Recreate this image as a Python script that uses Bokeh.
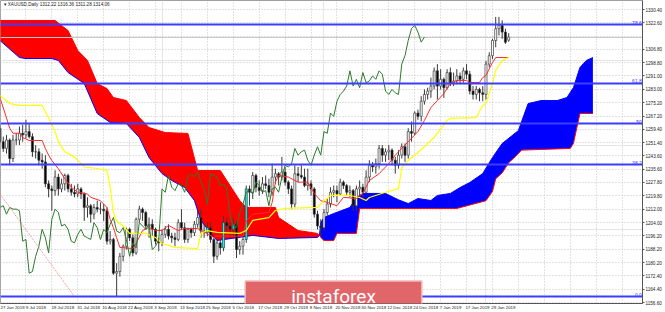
import numpy as np
from bokeh.plotting import figure
from bokeh.models import (Range1d, LinearAxis, FixedTicker, Label, Grid,
                          PrintfTickFormatter)
from bokeh.embed import file_html
from bokeh.resources import INLINE

# ---------------- data ----------------
opens = [1260,1252,1248,1253,1242,1253,1253,1257,1256,1258,
         1255,1246,1246,1241,1240,1227,1224,1223,1231,1224,
         1227,1232,1224,1222,1221,1224,1221,1213,1214,1209,
         1213,1212,1212,1211,1193,1194,1174,1175,1184,1190,
         1200,1195,1186,1206,1212,1210,1202,1203,1200,1193,
         1192,1197,1200,1196,1195,1194,1204,1201,1194,1200,
         1198,1203,1207,1199,1198,1201,1194,1184,1192,1189,
         1204,1202,1200,1203,1188,1190,1194,1224,1222,1232,
         1225,1223,1227,1226,1222,1231,1233,1231,1234,1228,
         1224,1215,1233,1232,1231,1226,1227,1224,1209,1202,
         1201,1210,1215,1222,1223,1221,1228,1226,1222,1223,
         1214,1224,1225,1222,1231,1238,1237,1239,1248,1244,
         1246,1247,1241,1238,1244,1249,1244,1258,1257,1269,
         1267,1276,1280,1282,1285,1294,1285,1289,1284,1293,
         1287,1288,1291,1289,1294,1292,1282,1280,1283,1281,
         1280,1298,1303,1312,1319,1321,1317,1312.22]
highs = [1262,1255,1256,1254,1256,1257,1261,1262,1265,1263,
         1257,1250,1248,1245,1244,1229,1226,1235,1233,1230,
         1233,1233,1227,1226,1227,1225,1222,1219,1215,1215,
         1217,1216,1215,1213,1199,1195,1180,1186,1191,1201,
         1201,1197,1207,1214,1213,1211,1207,1206,1201,1195,
         1200,1202,1203,1198,1198,1206,1212,1204,1201,1201,
         1205,1211,1212,1203,1204,1204,1195,1194,1194,1208,
         1207,1204,1207,1205,1193,1196,1226,1226,1234,1233,
         1229,1231,1232,1230,1239,1236,1234,1243,1237,1229,
         1226,1238,1237,1238,1236,1236,1229,1225,1211,1206,
         1212,1218,1225,1226,1226,1230,1229,1227,1226,1224,
         1226,1229,1227,1235,1241,1240,1242,1250,1250,1248,
         1250,1248,1243,1247,1251,1251,1260,1264,1270,1271,
         1279,1283,1284,1290,1296,1298,1295,1290,1295,1296,
         1293,1295,1293,1296,1298,1294,1285,1285,1284,1285,
         1300,1305,1313,1326,1326,1324,1319,1316.36]
lows = [1251,1246,1245,1238,1240,1250,1250,1252,1254,1254,
        1243,1242,1238,1236,1225,1219,1211,1220,1220,1222,
        1223,1222,1220,1219,1219,1218,1205,1207,1204,1206,
        1210,1209,1205,1191,1191,1173,1160,1172,1181,1188,
        1193,1184,1185,1204,1205,1200,1195,1196,1191,1187,
        1190,1195,1194,1192,1190,1193,1200,1192,1192,1195,
        1196,1201,1195,1195,1196,1192,1180,1182,1185,1187,
        1199,1195,1196,1183,1185,1185,1192,1214,1218,1222,
        1220,1221,1224,1219,1220,1227,1226,1229,1226,1221,
        1212,1213,1228,1230,1225,1223,1220,1207,1200,1196,
        1199,1208,1213,1219,1216,1220,1224,1220,1219,1211,
        1211,1220,1217,1221,1228,1234,1233,1236,1240,1240,
        1241,1238,1233,1236,1242,1240,1242,1252,1256,1265,
        1264,1274,1277,1278,1283,1277,1283,1278,1283,1285,
        1285,1286,1286,1287,1289,1280,1277,1277,1276,1276,
        1277,1296,1301,1308,1315,1313,1310,1311.28]
closes = [1252,1248,1253,1242,1253,1253,1257,1256,1258,1255,
          1246,1246,1241,1240,1227,1224,1223,1231,1224,1227,
          1232,1224,1222,1221,1224,1221,1213,1214,1209,1213,
          1212,1212,1211,1193,1194,1174,1175,1184,1190,1200,
          1195,1186,1206,1212,1210,1202,1203,1200,1193,1192,
          1197,1200,1196,1195,1194,1204,1201,1194,1200,1198,
          1203,1207,1199,1198,1201,1194,1184,1192,1189,1204,
          1202,1200,1203,1188,1190,1194,1224,1222,1232,1225,
          1223,1227,1226,1222,1231,1233,1231,1234,1228,1224,
          1215,1233,1232,1231,1226,1227,1224,1209,1202,1201,
          1210,1215,1222,1223,1221,1228,1226,1222,1223,1214,
          1224,1225,1222,1231,1238,1237,1239,1248,1244,1246,
          1247,1241,1238,1244,1249,1244,1258,1257,1269,1267,
          1276,1280,1282,1285,1294,1285,1289,1284,1293,1287,
          1288,1291,1289,1294,1292,1282,1280,1283,1281,1280,
          1298,1303,1312,1319,1321,1317,1311,1314.06]

tenkan_idx = [0,2,3,4,6,7,9,13,14,15,16,18,20,22,24,27,28,31,33,34,35,36,37,41,42,44,46,48,50,52,55,57,61,63,66,67,75,76,78,83,84,85,86,89,92,95,97,99,101,104,106,110,112,114,117,120,122,125,128,129,131,133,135,137,139,141,144,145,148,149,150,152,153,157]
tenkan_val = [1278,1266,1260,1257,1257,1254.5,1252.7,1252.7,1248,1244,1240.8,1236,1230,1225,1222,1221,1219,1217,1213,1206,1201,1195,1189.3,1188.6,1191.6,1199.3,1201.1,1199.3,1199.3,1202.3,1199.3,1200.5,1200.5,1198.5,1195.2,1196,1196,1205,1209,1210,1216,1228,1232,1231,1228,1228,1221.3,1217,1216,1214,1219,1218.3,1221.3,1229,1233,1239,1244,1250,1256,1258,1264.6,1272.3,1276.4,1280.6,1286.5,1288.3,1288.3,1287.1,1287.1,1290,1291.3,1299,1301.9,1301.9]

kijun_idx = [0,3,6,13,15,17,18,20,23,26,30,33,34,35,36,38,40,45,48,50,54,61,62,64,67,74,76,78,83,85,88,98,100,102,108,111,113,114,119,123,124,126,129,133,135,138,139,147,149,150,152,153,155,157]
kijun_val = [1279.4,1274.6,1273.5,1273.5,1266,1258,1252,1246,1243,1237,1236.1,1235,1225,1210,1205,1202,1197.6,1197.6,1195.2,1191.6,1189.3,1188.6,1197.6,1199.3,1198.2,1197.6,1199.3,1205.3,1207,1211.2,1212.4,1213,1217,1220.1,1220.1,1218.9,1217.1,1218.9,1222,1224.2,1236.7,1240.8,1245.6,1252.7,1256.9,1264.6,1265.8,1266.3,1273.5,1274.6,1286.5,1294.2,1300.2,1301.9]

span_a_idx = [0,6,8,16,18,21,26,30,34,39,43,46,50,53,57,60,62,65,67,78,86,98,98.6,99,100,103,108,110,112,119,123,126,129,133,135,139,142,145,149,152,155,160,163,167,172,175,177,179,181,183]
span_a_val = [1312.0,1301.9,1301.3,1301.3,1300.2,1293.0,1286.5,1268.7,1263.4,1262.8,1254.5,1242.6,1233.1,1229.0,1224.8,1217.1,1205.3,1197.6,1193.4,1196.4,1194.6,1195.2,1196.5,1204.0,1207.0,1209.4,1213.0,1218.9,1221.3,1221.3,1217.5,1215.3,1218.3,1217.1,1220.1,1221.3,1224.8,1227.8,1233.1,1242.6,1250.9,1258.6,1274.6,1276.4,1276.4,1278.2,1284.1,1296.0,1300.2,1301.9]

span_b_idx = [0,17,21,24,27,30,33,35,39,43,46,51,58,61,68,74,76,85,86,92,98,98.6,99,100,103,104,110,111,141,150,152,153,155,157,159,161,176,177,178,179,183]
span_b_val = [1323.9,1323.9,1317.9,1306.1,1300.2,1286.5,1283.5,1278.2,1276.4,1266.3,1260.4,1257.4,1256.9,1234.9,1234.9,1217.1,1213.0,1213.0,1207.0,1199.3,1197.6,1196.5,1195.2,1193.4,1193.4,1197.6,1197.6,1212.4,1212.4,1217.0,1222.5,1230.0,1233.5,1239.5,1243.0,1247.0,1248.0,1251.0,1260.0,1268.7,1268.7]
cloud_switch = 98.6
chikou_shift = 26

fib_names = ["0.0", "38.2", "50", "61.8", "78.6"]
fib_prices = [1160.0, 1238.4, 1262.6, 1286.8, 1321.3]

trend_idx = [0.0, 23.2]
trend_price = [1221.0, 1159.6]

price_ticks = [1330.40, 1322.60, 1314.60, 1306.80, 1298.80, 1291.00, 1283.00, 1275.20,
               1267.20, 1259.40, 1251.40, 1243.60, 1235.60, 1227.80, 1219.80, 1212.00,
               1204.00, 1196.20, 1188.20, 1180.20, 1172.40, 1164.40, 1156.60]
date_labels = ["27 Jun 2018", "9 Jul 2018", "19 Jul 2018", "31 Jul 2018", "10 Aug 2018",
               "22 Aug 2018", "3 Sep 2018", "13 Sep 2018", "25 Sep 2018", "5 Oct 2018",
               "17 Oct 2018", "29 Oct 2018", "8 Nov 2018", "20 Nov 2018", "30 Nov 2018",
               "12 Dec 2018", "24 Dec 2018", "7 Jan 2019", "17 Jan 2019", "29 Jan 2019"]
label_every = 8
symbol = "XAUUSD,Daily"

# ---------------- layout ----------------
W, H = 665, 312
FRAME_W, FRAME_H = 646, 303
PX_PER_BAR = 3.26
PX_PER_USD = 1.686
X0 = 0.15
Y_TOP = 1335.74
X1 = X0 + FRAME_W / PX_PER_BAR

p = figure(width=W, height=H, output_backend="svg", toolbar_location=None,
           x_range=Range1d(X0, X1),
           y_range=Range1d(Y_TOP - FRAME_H / PX_PER_USD, Y_TOP),
           x_axis_location=None, y_axis_location=None,
           min_border_left=0, min_border_top=0, min_border_right=W - FRAME_W,
           min_border_bottom=H - FRAME_H)
p.outline_line_color = "#a0a0a0"
p.background_fill_color = "white"
p.border_fill_color = "white"

n = len(closes)
idx = np.arange(n)
grid_x = list(range(0, int(X1) + 1, label_every))
p.add_layout(Grid(dimension=0, ticker=FixedTicker(ticks=grid_x),
                  grid_line_color="#c4c4c4", grid_line_dash="1 2", grid_line_width=1))
p.add_layout(Grid(dimension=1, ticker=FixedTicker(ticks=price_ticks),
                  grid_line_color="#c4c4c4", grid_line_dash="1 2", grid_line_width=1))

# cloud
a_idx = np.array(span_a_idx); a_val = np.array(span_a_val)
b_idx = np.array(span_b_idx); b_val = np.array(span_b_val)
ra = a_idx <= cloud_switch; rb = b_idx <= cloud_switch
red_x = list(b_idx[rb]) + list(a_idx[ra][::-1])
red_y = list(b_val[rb]) + list(a_val[ra][::-1])
ba = a_idx >= cloud_switch; bb = b_idx >= cloud_switch
blue_x = list(a_idx[ba]) + list(b_idx[bb][::-1])
blue_y = list(a_val[ba]) + list(b_val[bb][::-1])
p.patch(red_x, red_y, fill_color="#ff0000", line_color=None)
p.patch(blue_x, blue_y, fill_color="#0000ff", line_color=None)
p.line(span_a_idx, span_a_val, line_color="#0000ff", line_width=1)
p.line(span_b_idx, span_b_val, line_color="#ff0000", line_width=1)

# current price line
p.hspan(y=[closes[-1]], line_color="#c8c8c8", line_width=1)

# candles
o = np.array(opens, float); c = np.array(closes, float)
a_at = np.interp(idx, a_idx, a_val); b_at = np.interp(idx, b_idx, b_val)
top = np.maximum(o, c); bot = np.minimum(o, c)
colors = []
for i in range(n):
    if c[i] >= o[i]:
        in_red = (b_at[i] > a_at[i]) and (bot[i] < b_at[i]) and (top[i] > a_at[i])
        colors.append("#00ffff" if in_red else "white")
    else:
        colors.append("black")
p.segment(x0=idx, y0=lows, x1=idx, y1=highs, line_color="#3a3a3a", line_width=1)
p.vbar(x=idx, width=0.62, top=top, bottom=bot, fill_color=colors,
       line_color="#3a3a3a", line_width=0.7)

# ichimoku lines
p.line(tenkan_idx, tenkan_val, line_color="#ff2a2a", line_width=1)
p.line(kijun_idx, kijun_val, line_color="#ffff00", line_width=1.2)
p.line(idx[chikou_shift:] - chikou_shift, closes[chikou_shift:], line_color="#2c7a2c", line_width=1)

# trend line
p.line(trend_idx, trend_price, line_color="#f08080", line_width=1, line_dash="1 1")

# fibonacci levels
p.hspan(y=fib_prices, line_color="#3c3cff", line_width=2)
p.text(x=[X1 - 0.2] * len(fib_prices), y=fib_prices, text=fib_names,
       text_align="right", text_baseline="bottom", text_font_size="5px",
       text_color="#3c3cff")

# axes
yax = LinearAxis(ticker=FixedTicker(ticks=[t for t in price_ticks if abs(t - closes[-1]) > 2]),
                 formatter=PrintfTickFormatter(format="%.2f"),
                 major_label_text_font_size="4.6px", major_label_text_font="Liberation Sans",
                 major_label_text_color="#222222", major_label_standoff=1,
                 major_tick_out=2, major_tick_in=0, minor_tick_line_color=None,
                 axis_line_color="#555555", major_tick_line_color="#555555")
p.add_layout(yax, "right")

tick_pos = []
overrides = {}
for k, s in enumerate(date_labels):
    pos = k * label_every + len(s) * 1.0 / PX_PER_BAR
    tick_pos.append(pos)
    overrides[pos] = s
xax = LinearAxis(ticker=FixedTicker(ticks=tick_pos), major_label_overrides=overrides,
                 major_label_text_font_size="4.4px", major_label_text_font="Liberation Sans",
                 major_label_text_color="#222222", major_label_standoff=1,
                 major_tick_out=0, major_tick_in=0, minor_tick_line_color=None,
                 axis_line_color="#555555", major_tick_line_color=None)
p.add_layout(xax, "below")

# price box, title and watermark
p.add_layout(Label(x=FRAME_W + 1, y=closes[-1], x_units="screen", y_units="data",
                   text="%.2f" % closes[-1], text_font_size="4.6px", text_color="white",
                   text_font="Liberation Sans", text_baseline="middle", text_align="left",
                   background_fill_color="black", padding=1))
title = "\u25be %s  %.2f %.2f %.2f %.2f" % (symbol, opens[-1], highs[-1], lows[-1], closes[-1])
p.add_layout(Label(x=3, y=FRAME_H - 1, x_units="screen", y_units="screen", text=title,
                   text_font_size="4.6px", text_color="#222222", text_font="Liberation Sans",
                   text_baseline="top", text_align="left"))
p.add_layout(Label(x=333, y=FRAME_H - 296.5, x_units="screen", y_units="screen",
                   text="instaforex", text_font="Roboto", text_font_size="19px",
                   text_color="white", text_align="center", text_baseline="middle",
                   background_fill_color="#e0666a", border_line_color="#f2b8b8",
                   border_line_width=1.5,
                   padding=dict(left=46, right=46, top=4, bottom=5)))

open("out.html", "w").write(file_html(p, INLINE))
